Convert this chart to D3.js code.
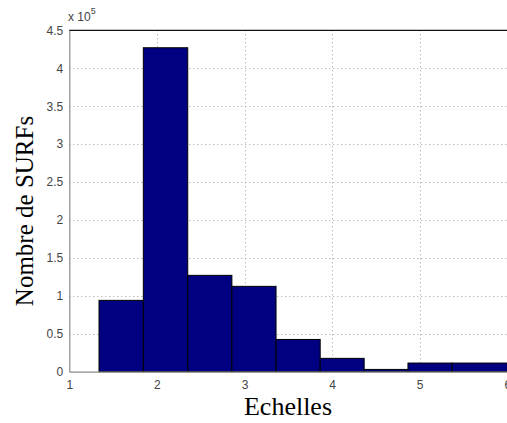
<!DOCTYPE html>
<html>
<head>
<meta charset="utf-8">
<script src="https://cdn.jsdelivr.net/npm/d3@7"></script>
<style>
  html, body { margin: 0; padding: 0; background: #fff; }
  svg { display: block; }
</style>
</head>
<body>
<svg id="chart" width="507" height="423"></svg>
<script>
// Histogram of SURF counts per scale (values in units of 10^5)
const binEdges = [1.339, 1.845, 2.352, 2.856, 3.36, 3.864, 4.366, 4.866, 5.368, 6.0];
const counts = [0.94, 4.27, 1.27, 1.125, 0.425, 0.176, 0.03, 0.114, 0.114];
const xTicks = [1, 2, 3, 4, 5, 6];
const yTicks = [0, 0.5, 1, 1.5, 2, 2.5, 3, 3.5, 4, 4.5];

const svg = d3.select("#chart");
const plotLeft = 69.3, plotRight = 507.3, plotTop = 30.3, plotBottom = 371.7;

const x = d3.scaleLinear().domain([1, 6]).range([plotLeft, plotRight]);
const y = d3.scaleLinear().domain([0, 4.5]).range([plotBottom, plotTop]);

const bins = counts.map((c, i) => ({ x0: binEdges[i], x1: binEdges[i + 1], v: c }));

// grid (dotted, behind bars)
const grid = svg.append("g").attr("stroke", "#a0a0a0").attr("stroke-width", 1)
  .attr("stroke-dasharray", "1,3");
grid.selectAll("line.gx").data(xTicks.filter(t => t > 1 && t < 6)).join("line")
  .attr("class", "gx")
  .attr("x1", d => Math.round(x(d)) + 0.5).attr("x2", d => Math.round(x(d)) + 0.5)
  .attr("y1", plotTop).attr("y2", plotBottom);
grid.selectAll("line.gy").data(yTicks.filter(t => t > 0 && t < 4.5)).join("line")
  .attr("class", "gy")
  .attr("y1", d => Math.round(y(d)) + 0.5).attr("y2", d => Math.round(y(d)) + 0.5)
  .attr("x1", plotLeft).attr("x2", plotRight);

// bars
svg.append("g").selectAll("rect").data(bins).join("rect")
  .attr("x", d => x(d.x0))
  .attr("y", d => y(d.v))
  .attr("width", d => x(d.x1) - x(d.x0))
  .attr("height", d => y(0) - y(d.v))
  .attr("fill", "#000080")
  .attr("stroke", "#000")
  .attr("stroke-width", 1);

// axes
const xAxis = d3.axisBottom(x).tickValues(xTicks).tickSize(0).tickPadding(9)
  .tickFormat(d3.format("d"));
const yAxis = d3.axisLeft(y).tickValues(yTicks).tickSize(0).tickPadding(6)
  .tickFormat(d => d === 0 ? "0" : String(d));

const gx = svg.append("g").attr("transform", `translate(0,${plotBottom})`).call(xAxis);
const gy = svg.append("g").attr("transform", `translate(${plotLeft},0)`).call(yAxis);
[gx, gy].forEach(g => {
  g.select(".domain").attr("stroke", "#8a8a8a").attr("stroke-width", 1.2);
  g.selectAll("text").attr("fill", "#444").style("font-family", "Arial, 'Liberation Sans', sans-serif")
    .style("font-size", "12px");
});

// top border
svg.append("line").attr("x1", plotLeft).attr("x2", plotRight).attr("y1", plotTop).attr("y2", plotTop)
  .attr("stroke", "#111").attr("stroke-width", 1.2);

// exponent multiplier
const ex = svg.append("text").attr("x", 68).attr("y", 21)
  .attr("fill", "#444").style("font-family", "Arial, 'Liberation Sans', sans-serif")
  .style("font-size", "12px");
ex.append("tspan").text("x 10");
ex.append("tspan").attr("dy", -7).style("font-size", "9px").text("5");

// axis titles
svg.append("text").attr("x", 288).attr("y", 415).attr("text-anchor", "middle")
  .style("font-family", "'Liberation Serif', 'Times New Roman', serif")
  .style("font-size", "26px").attr("fill", "#000").text("Echelles");

svg.append("text")
  .attr("transform", `translate(33,211) rotate(-90)`)
  .attr("text-anchor", "middle")
  .style("font-family", "'Liberation Serif', 'Times New Roman', serif")
  .style("font-size", "25px").attr("fill", "#000").text("Nombre de SURFs");
</script>
</body>
</html>
